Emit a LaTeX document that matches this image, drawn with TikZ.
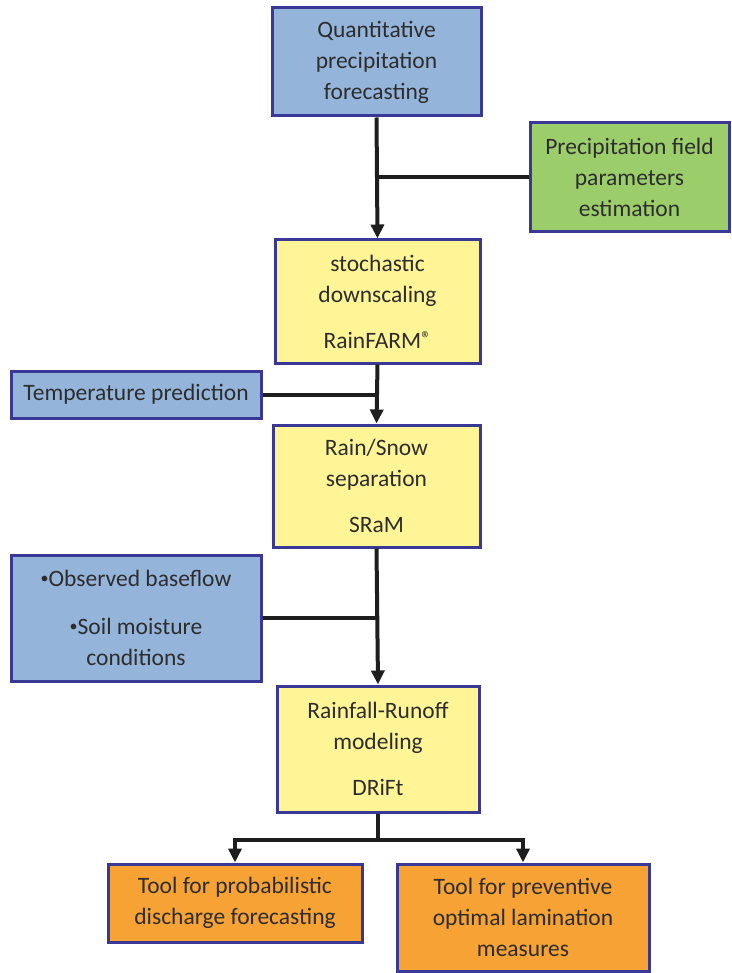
\documentclass[tikz,border=0pt]{standalone}
\usepackage{fontspec}
\setmainfont{Carlito}
\usetikzlibrary{arrows.meta}
\definecolor{edge}{RGB}{58,56,150}
\definecolor{wire}{RGB}{30,30,30}
\definecolor{inkgray}{RGB}{45,45,45}
\definecolor{bluefill}{RGB}{148,180,218}
\definecolor{greenfill}{RGB}{155,206,106}
\definecolor{yellowfill}{RGB}{255,244,150}
\definecolor{orangefill}{RGB}{247,162,52}
\newcommand{\regmark}{\raisebox{3pt}{\fontsize{20}{20}\selectfont\textregistered}}
\newcommand{\dotmark}{\raisebox{3.5pt}{\fontsize{16}{16}\selectfont\textbullet}}
\tikzset{
  box/.style={draw=edge, line width=3pt, inner sep=0pt, align=center,
    text=inkgray, font=\fontsize{23.5}{31}\selectfont},
  inbox/.style={box, fill=bluefill},
  parbox/.style={box, fill=greenfill},
  modelbox/.style={box, fill=yellowfill},
  outbox/.style={box, fill=orangefill},
  wireline/.style={draw=wire, line width=4pt},
  arr/.style={wireline, -{Triangle[length=14pt,width=13pt]}},
}
\begin{document}
\begin{tikzpicture}[x=1pt, y=-1pt]
\useasboundingbox (0,0) rectangle (731,973);

% input boxes
\node[inbox, minimum width=209pt, minimum height=108pt] (qpf) at (376.5,62)
  {Quantitative\\precipitation\\forecasting};
\node[parbox, minimum width=199pt, minimum height=109pt] (pfp) at (629.5,177.5)
  {Precipitation field\\parameters\\estimation};
\node[inbox, minimum width=250pt, minimum height=47pt] (temp) at (136,394.5)
  {Temperature prediction};
\node[inbox, minimum width=250pt, minimum height=126pt] (obs) at (136,618)
  {\dotmark Observed baseflow\\[17pt]\dotmark Soil moisture\\conditions};

% model chain
\node[modelbox, minimum width=205pt, minimum height=123pt] (rfarm) at (377.5,301.5)
  {stochastic\\downscaling\\[15pt]RainFARM\regmark};
\node[modelbox, minimum width=207pt, minimum height=122pt] (sram) at (376.5,486)
  {Rain/Snow\\separation\\[15pt]SRaM};
\node[modelbox, minimum width=202pt, minimum height=126pt] (drift) at (378,749)
  {Rainfall-Runoff\\modeling\\[15pt]DRiFt};

% output tools
\node[outbox, minimum width=254pt, minimum height=78pt] (prob) at (235,903)
  {Tool for probabilistic\\discharge forecasting};
\node[outbox, minimum width=252pt, minimum height=107pt] (lam) at (523,917.5)
  {Tool for preventive\\optimal lamination\\measures};

% connectors
\draw[arr] (qpf.south) -- (rfarm.north);
\draw[wireline] (pfp.west) -- (pfp.west -| qpf.south);
\draw[arr] (rfarm.south) -- (sram.north);
\draw[wireline] (temp.east) -- (temp.east -| rfarm.south);
\draw[arr] (sram.south) -- (drift.north);
\draw[wireline] (obs.east) -- (obs.east -| sram.south);
\draw[wireline] (drift.south) -- ++(0,26) coordinate (split);
\draw[arr] (split) -| (prob.north);
\draw[arr] (split) -| (lam.north);
\end{tikzpicture}
\end{document}
